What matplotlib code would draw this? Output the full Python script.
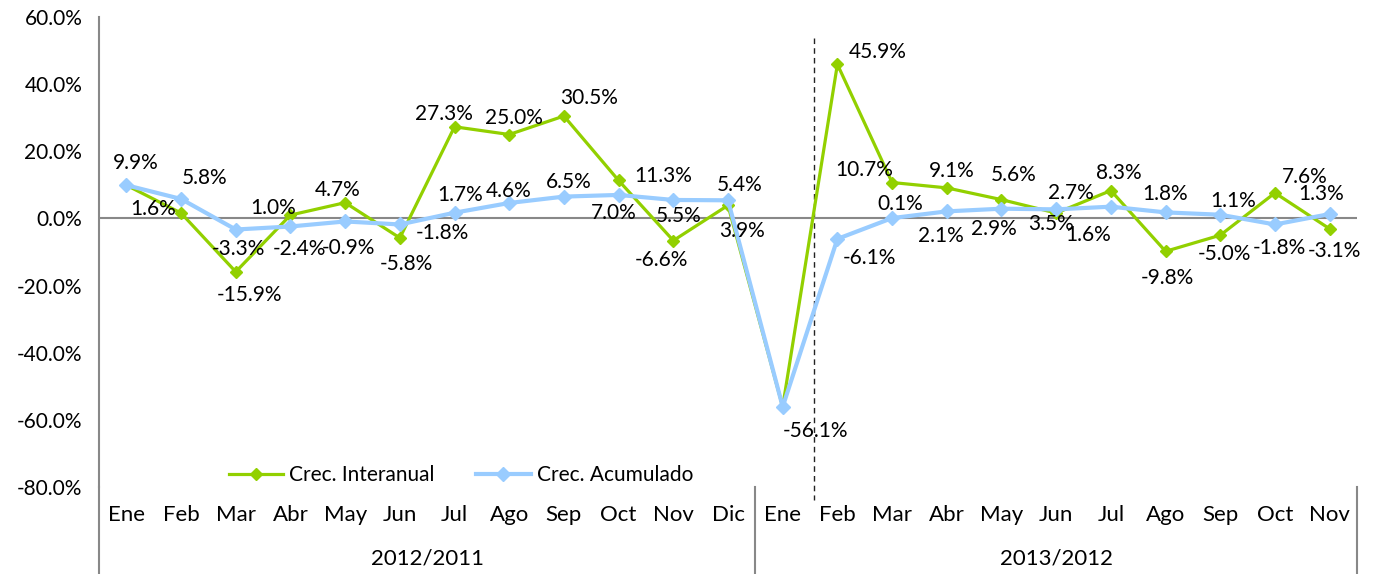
import matplotlib
matplotlib.use("Agg")
import matplotlib.pyplot as plt
from matplotlib.ticker import FuncFormatter

plt.rcParams['font.family'] = ['Lato', 'DejaVu Sans']

months = ['Ene', 'Feb', 'Mar', 'Abr', 'May', 'Jun', 'Jul', 'Ago', 'Sep', 'Oct', 'Nov', 'Dic',
          'Ene', 'Feb', 'Mar', 'Abr', 'May', 'Jun', 'Jul', 'Ago', 'Sep', 'Oct', 'Nov']
groups = ['2012/2011', '2013/2012']
group_sizes = [12, 11]

interanual = [9.9, 1.6, -15.9, 1.0, 4.7, -5.8, 27.3, 25.0, 30.5, 11.3, -6.6, 3.9,
              -56.1, 45.9, 10.7, 9.1, 5.6, 1.6, 8.3, -9.8, -5.0, 7.6, -3.1]
acumulado = [9.9, 5.8, -3.3, -2.4, -0.9, -1.8, 1.7, 4.6, 6.5, 7.0, 5.5, 5.4,
             -56.1, -6.1, 0.1, 2.1, 2.9, 2.7, 3.5, 1.8, 1.1, -1.8, 1.3]

# label offsets (pixels) for each point, None = label hidden
off_inter = [None, (-28, 4), (14, -23), (-17, 7), (-7, 13), (7, -26), (-11, 13), (5, 17),
             (25, 18), (45, 4), (-12, -19), (14, -26), None, (40, 12), (-28, 13),
             (5, 17), (12, 25), (32, -22), (8, 18), (2, -27), (4, -19), (30, 16), (5, -22)]
off_acum = [(9, 22), (24, 21), (3, -19), (9, -23), (3, -27), (43, -9), (6, 18), (-1, 12),
            (5, 15), (-5, -18), (5, -16), (12, 15), (33, -24), (32, -19), (8, 14),
            (-6, -25), (-8, -20), (15, 16), (-60, -17), (0, 18), (13, 14), (4, -24), (-9, 20)]

green = '#92D000'
blue = '#99CCFF'

fig = plt.figure(figsize=(13.79, 5.74), dpi=100)
ax = fig.add_axes([99 / 1379, 1 - 487 / 574, (1357 - 99) / 1379, 470 / 574])

x = list(range(len(months)))
ax.plot(x, interanual, color=green, lw=2.3, marker='D', ms=6.5, zorder=3, label='Crec. Interanual')
ax.plot(x, acumulado, color=blue, lw=3, marker='D', ms=7.5, zorder=4, label='Crec. Acumulado')

for vals, offs in [(interanual, off_inter), (acumulado, off_acum)]:
    for i, (v, o) in enumerate(zip(vals, offs)):
        if o is None:
            continue
        ax.annotate(f'{v:.1f}%', (i, v), xytext=o, textcoords='offset pixels',
                    ha='center', va='center', fontsize=15, zorder=5)

ax.set_xlim(-0.5, len(months) - 0.5)
ax.set_ylim(-80, 60)
ax.set_yticks(range(-80, 61, 20))
ax.yaxis.set_major_formatter(FuncFormatter(lambda v, p: f'{v:.1f}%'))
ax.set_xticks(x)
ax.set_xticklabels(months)
ax.tick_params(axis='both', length=0, labelsize=15)
ax.tick_params(axis='y', pad=12)
ax.tick_params(axis='x', pad=13, labelsize=16)

for s in ['top', 'right', 'bottom']:
    ax.spines[s].set_visible(False)
ax.spines['left'].set_color('#888888')
ax.spines['left'].set_linewidth(1.5)
ax.axhline(0, color='#888888', lw=1.5, zorder=2)

# category separators below the plot
bx = ax.get_xaxis_transform()
edges = [-0.5]
for n in group_sizes:
    edges.append(edges[-1] + n)
for e in edges:
    ax.plot([e, e], [0, -0.185], color='#888888', lw=1.5, transform=bx, clip_on=False)
for g, a, b in zip(groups, edges[:-1], edges[1:]):
    ax.text((a + b) / 2, -0.152, g, transform=bx, ha='center', va='center', fontsize=16)

# dashed marker line
ax.plot([12.57, 12.57], [0.955, -0.028], color='#222222', lw=1, ls=(0, (4, 3)),
        transform=bx, clip_on=False, zorder=1)

fig.legend(loc='center', bbox_to_anchor=(461 / 1379, 1 - 475 / 574), ncol=2, frameon=False,
           fontsize=15, handlelength=2.6, columnspacing=2.0, handletextpad=0.3)

fig.savefig('out.png', dpi=100)
